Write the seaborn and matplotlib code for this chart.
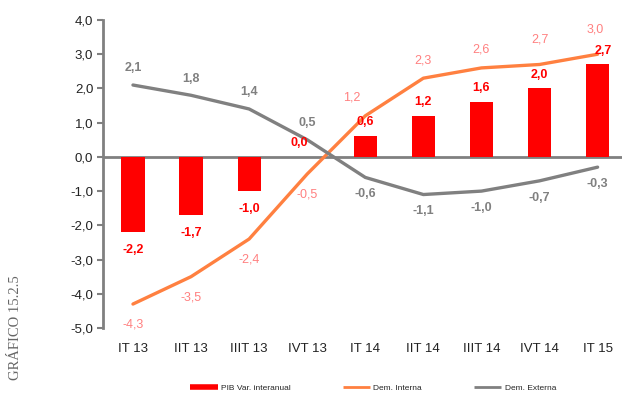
import pandas as pd
import matplotlib
matplotlib.use("Agg")
import matplotlib.pyplot as plt
from matplotlib.lines import Line2D
import seaborn as sns

quarters = ["IT 13", "IIT 13", "IIIT 13", "IVT 13", "IT 14", "IIT 14", "IIIT 14", "IVT 14", "IT 15"]
pib = [-2.2, -1.7, -1.0, 0.0, 0.6, 1.2, 1.6, 2.0, 2.7]
dem_interna = [-4.3, -3.5, -2.4, -0.5, 1.2, 2.3, 2.6, 2.7, 3.0]
dem_externa = [2.1, 1.8, 1.4, 0.5, -0.6, -1.1, -1.0, -0.7, -0.3]

RED = "#FF0000"
ORANGE = "#FF8040"
ORANGE_TXT = "#FF8080"
GRAY = "#808080"

sns.set_style("white")
plt.rcParams["font.family"] = ["Liberation Sans", "DejaVu Sans"]

df = pd.DataFrame({"q": quarters, "pib": pib, "di": dem_interna, "de": dem_externa})
df["x"] = range(len(df))


def fmt(v):
    return f"{v:.1f}".replace(".", ",")


fig = plt.figure(figsize=(6.22, 3.94), dpi=100)
ax = fig.add_axes([103 / 622, 1 - 328 / 394, 519 / 622, 308 / 394])

sns.barplot(data=df, x="q", y="pib", color=RED, width=0.4, saturation=1,
            linewidth=0, edgecolor="none", ax=ax, zorder=2)
sns.lineplot(data=df, x="x", y="di", color=ORANGE, lw=2.4, ax=ax, zorder=3)
sns.lineplot(data=df, x="x", y="de", color=GRAY, lw=2.4, ax=ax, zorder=3)

ax.set_xlim(-0.516, 8.42)
ax.set_ylim(-5, 4)
ax.set_yticks([-5, -4, -3, -2, -1, 0, 1, 2, 3, 4])
ax.set_yticklabels([fmt(t) for t in ax.get_yticks()], fontsize=9.5, color="#222222")
ax.set_xlabel("")
ax.set_ylabel("")
ax.set_xticks(range(len(quarters)))
ax.set_xticklabels(quarters, fontsize=9.5, color="#222222")
ax.tick_params(axis="x", length=0, pad=11)
ax.tick_params(axis="y", length=4, width=1.5, color=GRAY, direction="out", pad=3, left=True)
for s in ["top", "right", "bottom"]:
    ax.spines[s].set_visible(False)
ax.spines["left"].set_color(GRAY)
ax.spines["left"].set_linewidth(2)
ax.axhline(0, color=GRAY, lw=2, zorder=1)

# data labels
for i, r in df.iterrows():
    dy = 10 if r.pib >= 0 else -13
    dx = 4 if i == 8 else (-6 if i == 3 else 0)
    ax.annotate(fmt(r.pib), (r.x, r.pib), xytext=(dx, dy), textcoords="offset points",
                ha="center", va="center", color=RED, fontsize=9, fontweight="bold")
    dy = 13 if r.di >= 0 else -15
    dx = -10 if i == 4 else (-2 if i == 8 else 0)
    if i in (7, 8):
        dy = 18
    ax.annotate(fmt(r.di), (r.x, r.di), xytext=(dx, dy), textcoords="offset points",
                ha="center", va="center", color=ORANGE_TXT, fontsize=9)
    dy = 12 if r.de >= 0 else -12
    ax.annotate(fmt(r.de), (r.x, r.de), xytext=(0, dy), textcoords="offset points",
                ha="center", va="center", color=GRAY, fontsize=9, fontweight="bold")

# legend
handles = [Line2D([], [], color=RED, lw=4, solid_capstyle="butt"),
           Line2D([], [], color=ORANGE, lw=2, solid_capstyle="butt"),
           Line2D([], [], color=GRAY, lw=2, solid_capstyle="butt")]
fig.legend(handles, ["PIB Var. interanual", "Dem. Interna", "Dem. Externa"],
           loc="center", bbox_to_anchor=(0.6, 1 - 388 / 394), ncol=3, frameon=False,
           fontsize=6, handlelength=3.3, columnspacing=6.2, handletextpad=0.4)

fig.text(16 / 622, 1 - 328 / 394, "GRÁFICO 15.2.5", rotation=90, ha="center", va="center",
         fontsize=10.5, color="#666666", family=["Liberation Serif", "DejaVu Serif"])

fig.savefig("out.png", dpi=100)
